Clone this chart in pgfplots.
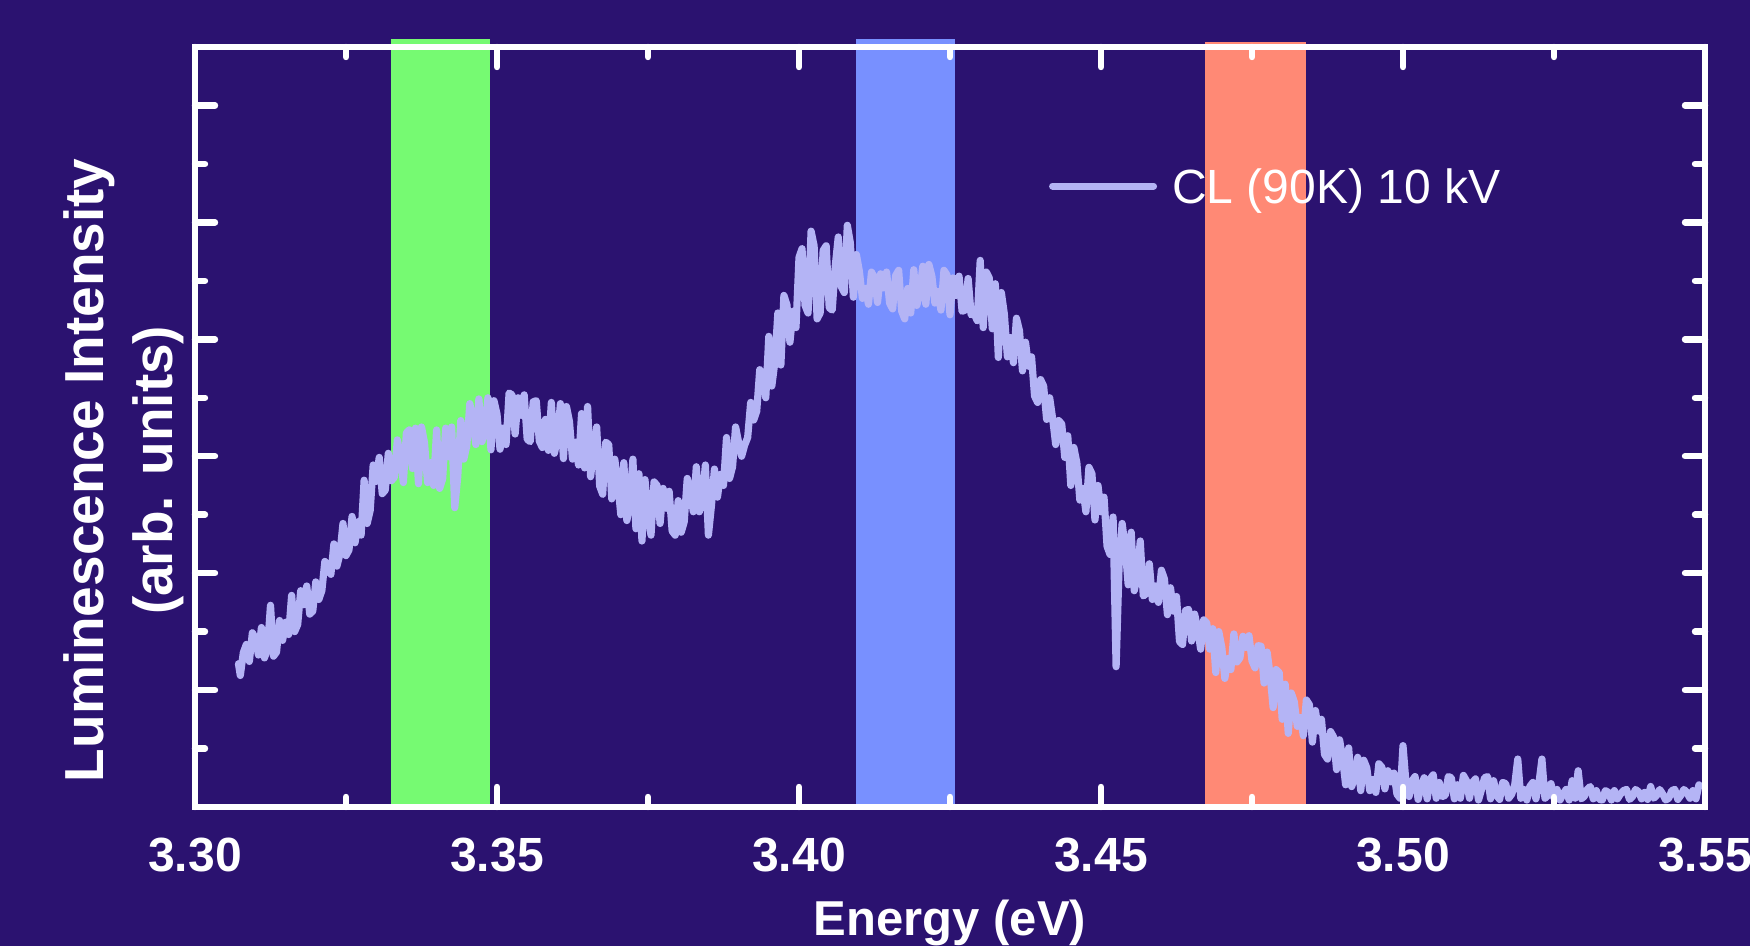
\documentclass[border=0pt]{standalone}
\usepackage{fontspec}
\setmainfont{Liberation Sans}
\usepackage{pgfplots}
\usepackage{pgfplotstable}
\pgfplotsset{compat=1.18}
\definecolor{bgc}{RGB}{43,18,112}
\definecolor{bandgreen}{RGB}{118,250,114}
\definecolor{bandblue}{RGB}{120,144,255}
\definecolor{bandsalmon}{RGB}{255,137,117}
\definecolor{specline}{RGB}{180,180,245}

\pgfplotstableread{
x y
3.3072 2.45
3.3075 2.25
3.308 2.64
3.3085 2.78
3.309 2.49
3.3095 2.98
3.310 2.88
3.3105 2.60
3.311 3.07
3.3115 2.55
3.312 2.70
3.3125 3.45
3.313 2.58
3.3135 2.65
3.314 3.19
3.3145 2.85
3.315 3.16
3.3155 2.95
3.316 3.62
3.3165 3.00
3.317 3.12
3.3175 3.70
3.318 3.46
3.3185 3.78
3.319 3.30
3.3195 3.35
3.320 3.85
3.3205 3.55
3.321 3.70
3.3215 4.20
3.322 4.12
3.3225 3.98
3.323 4.50
3.3235 4.12
3.324 4.33
3.3245 4.85
3.325 4.30
3.3255 4.40
3.326 4.97
3.3265 4.52
3.327 4.88
3.3275 4.65
3.328 5.59
3.3285 4.85
3.329 5.07
3.3295 5.85
3.330 5.57
3.3305 5.98
3.331 5.36
3.3315 5.42
3.332 6.05
3.3325 5.58
3.333 5.64
3.3335 6.28
3.334 6.01
3.3345 5.55
3.335 6.40
3.3355 6.45
3.336 5.79
3.3365 6.48
3.337 5.53
3.3375 6.50
3.338 6.23
3.3385 5.55
3.339 5.89
3.3395 5.50
3.340 6.45
3.3405 5.45
3.341 5.61
3.3415 6.48
3.342 5.99
3.3425 6.50
3.343 5.12
3.3435 5.65
3.344 6.61
3.3445 5.95
3.345 6.18
3.3455 6.90
3.346 6.62
3.3465 6.20
3.347 6.98
3.3475 6.25
3.348 6.43
3.3485 7.00
3.349 6.11
3.3495 6.95
3.350 6.72
3.3505 6.12
3.351 6.48
3.3515 6.20
3.352 7.08
3.3525 7.05
3.353 6.38
3.3535 7.00
3.354 6.70
3.3545 7.05
3.355 6.29
3.3555 6.25
3.356 6.93
3.3565 6.95
3.357 6.26
3.3575 6.15
3.358 6.63
3.3585 6.10
3.359 6.92
3.3595 6.05
3.360 6.29
3.3605 6.90
3.361 5.96
3.3615 6.85
3.362 6.59
3.3625 5.95
3.363 6.24
3.3635 5.85
3.364 6.73
3.3645 5.80
3.365 6.85
3.3655 5.65
3.366 6.12
3.3665 6.50
3.367 5.49
3.3675 5.35
3.368 6.24
3.3685 6.20
3.369 5.27
3.3695 5.95
3.370 5.54
3.3705 5.00
3.371 5.89
3.3715 4.90
3.372 5.18
3.3725 5.95
3.373 4.76
3.3735 5.70
3.374 4.55
3.3745 5.60
3.375 5.00
3.3755 4.65
3.376 5.56
3.3765 5.50
3.377 4.85
3.3775 5.45
3.378 5.11
3.3785 5.40
3.379 4.72
3.3795 4.65
3.380 5.24
3.3805 4.70
3.381 4.88
3.3815 5.62
3.382 5.42
3.3825 5.05
3.383 5.82
3.3835 5.05
3.384 5.26
3.3845 5.85
3.385 4.65
3.3855 5.15
3.386 5.78
3.3865 5.30
3.387 5.69
3.3875 5.50
3.388 6.32
3.3885 5.62
3.389 5.82
3.3895 6.50
3.390 6.24
3.3905 6.00
3.391 6.19
3.3915 6.32
3.392 6.92
3.3925 6.62
3.393 6.77
3.3935 7.48
3.394 7.36
3.3945 7.00
3.395 8.05
3.3955 7.20
3.396 7.61
3.3965 8.45
3.397 7.56
3.3975 8.75
3.398 8.59
3.3985 7.95
3.399 8.48
3.3995 8.20
3.400 9.40
3.4005 9.55
3.401 8.58
3.4015 8.45
3.402 9.85
3.4025 9.60
3.403 8.35
3.4035 8.45
3.404 9.52
3.4045 9.60
3.405 8.54
3.4055 8.50
3.406 9.25
3.4065 9.75
3.407 8.90
3.4075 8.80
3.408 9.95
3.4085 9.65
3.409 8.72
3.4095 9.45
3.410 9.16
3.4105 8.70
3.411 8.87
3.4115 8.60
3.412 9.15
3.4125 9.05
3.413 8.63
3.4135 9.12
3.414 8.88
3.4145 9.15
3.415 8.62
3.4155 8.52
3.416 9.09
3.4165 9.18
3.417 8.48
3.4175 8.35
3.418 8.87
3.4185 8.45
3.419 9.19
3.4195 8.58
3.420 8.80
3.4205 9.25
3.421 8.60
3.4215 9.28
3.422 9.08
3.4225 8.62
3.423 8.82
3.4235 8.50
3.424 9.18
3.4245 9.10
3.425 8.42
3.4255 9.05
3.426 8.75
3.4265 9.08
3.427 8.48
3.4275 8.50
3.428 9.04
3.4285 8.42
3.429 8.44
3.4295 8.32
3.430 9.35
3.4305 8.20
3.431 9.15
3.4315 9.05
3.432 8.18
3.4325 8.95
3.433 7.69
3.4335 8.80
3.434 8.43
3.4345 7.70
3.435 8.03
3.4355 7.60
3.436 8.36
3.4365 8.15
3.437 7.46
3.4375 7.95
3.438 7.54
3.4385 7.70
3.439 7.03
3.4395 6.92
3.440 7.31
3.4405 7.20
3.441 6.63
3.4415 7.00
3.442 6.64
3.4425 6.20
3.443 6.61
3.4435 6.55
3.444 5.98
3.4445 6.35
3.445 5.50
3.4455 6.15
3.446 5.89
3.4465 5.25
3.447 5.45
3.4475 5.05
3.448 5.81
3.4485 5.70
3.449 4.91
3.4495 5.50
3.450 5.05
3.4505 5.30
3.451 4.46
3.4515 4.32
3.452 4.96
3.4525 2.40
3.453 4.15
3.4535 4.85
3.454 4.44
3.4545 3.80
3.455 4.70
3.4555 3.70
3.456 3.94
3.4565 4.55
3.457 3.61
3.4575 3.65
3.458 4.16
3.4585 3.55
3.459 3.78
3.4595 3.50
3.460 4.05
3.4605 3.90
3.461 3.29
3.4615 3.75
3.462 3.35
3.4625 3.60
3.463 2.83
3.4635 2.78
3.464 3.36
3.4645 3.38
3.465 2.84
3.4655 3.30
3.466 3.05
3.4665 2.70
3.467 3.20
3.4675 3.15
3.468 2.70
3.4685 3.05
3.469 2.30
3.4695 3.00
3.470 2.73
3.4705 2.20
3.471 2.54
3.4715 2.35
3.472 2.96
3.4725 2.48
3.473 2.55
3.4735 2.92
3.474 2.73
3.4745 2.93
3.475 2.50
3.4755 2.38
3.476 2.76
3.4765 2.75
3.477 2.12
3.4775 2.65
3.478 2.26
3.4785 1.70
3.479 2.35
3.4795 2.30
3.480 1.50
3.4805 2.10
3.481 1.26
3.4815 1.95
3.482 1.80
3.4825 1.38
3.483 1.53
3.4835 1.22
3.484 1.83
3.4845 1.75
3.485 1.11
3.4855 1.65
3.486 1.30
3.4865 1.50
3.487 0.90
3.4875 0.82
3.488 1.29
3.4885 1.20
3.489 0.64
3.4895 1.15
3.490 0.83
3.4905 0.38
3.491 1.01
3.4915 0.35
3.492 0.50
3.4925 0.85
3.493 0.28
3.4935 0.80
3.494 0.67
3.4945 0.28
3.495 0.47
3.4955 0.25
3.496 0.74
3.4965 0.68
3.497 0.31
3.4975 0.62
3.498 0.43
3.4985 0.58
3.499 0.22
3.4995 0.15
3.500 1.05
3.5005 0.40
3.501 0.18
3.5015 0.45
3.502 0.52
3.5025 0.13
3.503 0.35
3.5035 0.50
3.504 0.14
3.5045 0.48
3.505 0.55
3.5055 0.15
3.506 0.42
3.5065 0.18
3.507 0.20
3.5075 0.52
3.508 0.50
3.5085 0.14
3.509 0.38
3.5095 0.15
3.510 0.54
3.5105 0.45
3.511 0.15
3.5115 0.42
3.512 0.48
3.5125 0.12
3.513 0.30
3.5135 0.50
3.514 0.52
3.5145 0.14
3.515 0.45
3.5155 0.20
3.516 0.13
3.5165 0.42
3.517 0.40
3.5175 0.15
3.518 0.22
3.5185 0.38
3.519 0.82
3.5195 0.15
3.520 0.30
3.5205 0.12
3.521 0.35
3.5215 0.42
3.522 0.14
3.5225 0.40
3.523 0.82
3.5235 0.15
3.524 0.20
3.5245 0.40
3.525 0.15
3.5255 0.30
3.526 0.12
3.5265 0.22
3.527 0.30
3.5275 0.12
3.528 0.45
3.5285 0.15
3.529 0.62
3.5295 0.14
3.530 0.18
3.5305 0.30
3.531 0.35
3.5315 0.14
3.532 0.28
3.5325 0.13
3.533 0.12
3.5335 0.28
3.534 0.25
3.5345 0.12
3.535 0.28
3.5355 0.14
3.536 0.22
3.5365 0.28
3.537 0.30
3.5375 0.13
3.538 0.18
3.5385 0.30
3.539 0.26
3.5395 0.14
3.540 0.25
3.5405 0.13
3.541 0.35
3.5415 0.15
3.542 0.20
3.5425 0.30
3.543 0.22
3.5435 0.12
3.544 0.15
3.5445 0.28
3.545 0.30
3.5455 0.13
3.546 0.20
3.5465 0.30
3.547 0.25
3.5475 0.15
3.548 0.28
3.5485 0.14
3.549 0.38
}\spectrum

\begin{document}
\begin{tikzpicture}
\fill[bgc] (-97.5bp,-69.5bp) rectangle (777.5bp,403.5bp);
\begin{axis}[
  at={(0,0)}, anchor=south west,
  scale only axis, width=755bp, height=380bp,
  xmin=3.30, xmax=3.55, ymin=0, ymax=13,
  xtick={3.30,3.35,3.40,3.45,3.50,3.55},
  xticklabels={3.30,3.35,3.40,3.45,3.50,3.55},
  minor xtick={3.325,3.375,3.425,3.475,3.525},
  ytick={2,4,6,8,10,12}, yticklabels={,,,,,},
  minor ytick={1,3,5,7,9,11},
  tick align=inside,
  major tick length=10bp, minor tick length=5bp,
  tick style={white, line width=3.2bp, line cap=round},
  axis line style={white, line width=3.2bp},
  axis on top, clip=false,
  xticklabel style={font=\fontsize{24bp}{28bp}\selectfont\bfseries, text=white, anchor=base, yshift=-32bp},
  legend style={at={(0.5656,0.817)}, anchor=west, draw=none, fill=none,
    inner sep=0pt, outer sep=0pt, column sep=7.5bp,
    font=\fontsize{24bp}{28bp}\selectfont, text=white,
    nodes={inner sep=0pt, text height=17.2bp, text depth=0pt}},
  legend image code/.code={\draw[line width=3.5bp, line cap=round, specline] (1.75bp,0bp) -- (52.25bp,0bp);},
]
\addplot[fill=bandgreen, draw=none, forget plot] coordinates {(3.3324,0) (3.3489,0) (3.3489,13.14) (3.3324,13.14)} -- cycle;
\addplot[fill=bandblue, draw=none, forget plot] coordinates {(3.4094,0) (3.4258,0) (3.4258,13.14) (3.4094,13.14)} -- cycle;
\addplot[fill=bandsalmon, draw=none, forget plot] coordinates {(3.4672,0) (3.4839,0) (3.4839,13.09) (3.4672,13.09)} -- cycle;
\addplot[specline, line width=3.6bp, line join=round, line cap=round] table[x=x,y=y] {\spectrum};
\addlegendentry{CL (90K) 10 kV}
\node[rotate=90, anchor=base, font=\fontsize{27.5bp}{30bp}\selectfont\bfseries, text=white] at ([xshift=-45.5bp]rel axis cs:0,0.443) {Luminescence Intensity};
\node[rotate=90, anchor=base, font=\fontsize{27.5bp}{30bp}\selectfont\bfseries, text=white] at ([xshift=-11bp]rel axis cs:0,0.443) {(arb. units)};
\node[anchor=base, font=\fontsize{24.5bp}{28bp}\selectfont\bfseries, text=white] at ([yshift=-64bp]rel axis cs:0.5,0) {Energy (eV)};
\end{axis}
\pgfresetboundingbox
\useasboundingbox (-97.5bp,-69.5bp) rectangle (777.5bp,403.5bp);
\end{tikzpicture}
\end{document}
